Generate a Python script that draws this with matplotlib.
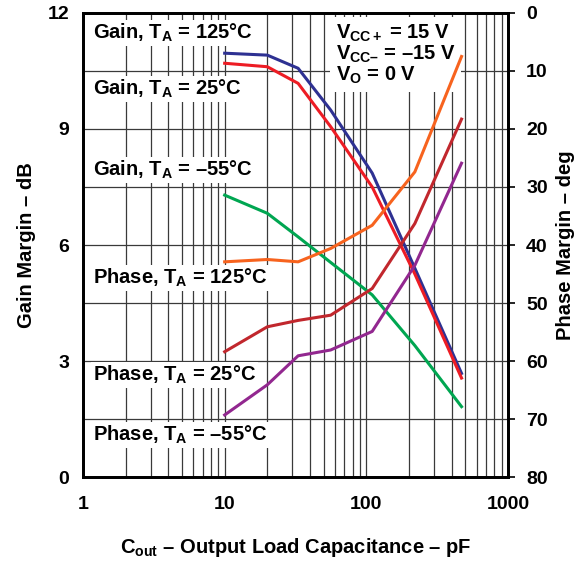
"""Gain and phase margin vs output load capacitance."""

import matplotlib

matplotlib.use("Agg")

import matplotlib.pyplot as plt
import numpy as np
from matplotlib.ticker import FixedLocator, NullFormatter, NullLocator

# load capacitance in pF
CAP = [10, 20, 33, 56, 110, 220, 470]

GAIN_125 = [10.96, 10.91, 10.57, 9.49, 7.86, 5.40, 2.68]
GAIN_25 = [10.70, 10.61, 10.18, 9.06, 7.50, 5.25, 2.56]
GAIN_M55 = [7.29, 6.82, 6.21, 5.55, 4.71, 3.40, 1.82]

PHASE_125 = [42.9, 42.5, 42.9, 40.6, 36.6, 27.4, 7.5]
PHASE_25 = [58.4, 54.1, 53.0, 52.1, 47.5, 36.3, 18.3]
PHASE_M55 = [69.3, 64.1, 59.1, 58.1, 54.9, 43.5, 25.9]

GAIN_TICKS = [0, 3, 6, 9, 12]
PHASE_TICKS = [0, 10, 20, 30, 40, 50, 60, 70, 80]
X_TICKS = [1, 10, 100, 1000]

COLORS = {
    "gain_125": "#2E3192",
    "gain_25": "#ED1C24",
    "gain_m55": "#00A651",
    "phase_125": "#F7631E",
    "phase_25": "#C1272D",
    "phase_m55": "#92278F",
    "grid": "#3A3A3A",
}

FS = 14.5      # annotations and axis titles
FS_TICK = 14

plt.rcParams.update(
    {
        "font.family": ["Liberation Sans", "DejaVu Sans"],
        "font.weight": "bold",
        "font.size": FS,
        "axes.labelweight": "bold",
        "mathtext.fontset": "custom",
        "mathtext.rm": "Liberation Sans:bold",
        "mathtext.it": "Liberation Sans:bold",
        "mathtext.bf": "Liberation Sans:bold",
        "mathtext.default": "rm",
    }
)

fig = plt.figure(figsize=(5.87, 5.62), dpi=100)
ax = fig.add_axes([0.1414, 0.1512, 0.7240, 0.8257])
ax2 = ax.twinx()

ax.set_xscale("log")
ax.set_xlim(1, 1000)
ax.set_ylim(0, 12)
ax2.set_ylim(80, 0)

# grid: every 1.5 dB on gain axis (= 10 deg on phase axis)
ax.yaxis.set_major_locator(FixedLocator(GAIN_TICKS))
ax.yaxis.set_minor_locator(FixedLocator(np.arange(0, 12.1, 1.5)))
ax.xaxis.set_major_locator(FixedLocator(X_TICKS))
ax.set_xticklabels([str(t) for t in X_TICKS])
ax.xaxis.set_minor_locator(matplotlib.ticker.LogLocator(base=10, subs=np.arange(2, 10)))
ax.xaxis.set_minor_formatter(NullFormatter())
ax.grid(which="both", axis="both", color=COLORS["grid"], linewidth=0.9)
ax.set_axisbelow(True)

ax.tick_params(axis="both", which="both", length=0, labelsize=FS_TICK, pad=10)
ax.tick_params(axis="x", pad=14)
ax2.yaxis.set_major_locator(FixedLocator(PHASE_TICKS))
ax2.yaxis.set_minor_locator(NullLocator())
ax2.tick_params(axis="y", length=5, width=1.2, labelsize=FS_TICK, pad=8)

for a in (ax, ax2):
    for sp in a.spines.values():
        sp.set_linewidth(2.0)
        sp.set_color("black")

lw = 2.2
ax.plot(CAP, GAIN_125, color=COLORS["gain_125"], lw=lw, zorder=4)
ax.plot(CAP, GAIN_25, color=COLORS["gain_25"], lw=lw, zorder=4)
ax.plot(CAP, GAIN_M55, color=COLORS["gain_m55"], lw=lw, zorder=4)
ax2.plot(CAP, PHASE_125, color=COLORS["phase_125"], lw=lw)
ax2.plot(CAP, PHASE_25, color=COLORS["phase_25"], lw=lw)
ax2.plot(CAP, PHASE_M55, color=COLORS["phase_m55"], lw=lw)

ax.set_ylabel("Gain Margin \u2013 dB", fontsize=FS, labelpad=8)
ax2.set_ylabel("Phase Margin \u2013 deg", fontsize=FS, labelpad=6)
ax.set_xlabel("C$_{out}$ \u2013 Output Load Capacitance \u2013 pF", fontsize=FS, labelpad=16)

box = dict(facecolor="white", edgecolor="none", pad=1.5)
labels = [
    ("Gain, T$_{A}$ = 125\u00b0C", 11.48),
    ("Gain, T$_{A}$ = 25\u00b0C", 10.03),
    ("Gain, T$_{A}$ = \u201355\u00b0C", 7.94),
    ("Phase, T$_{A}$ = 125\u00b0C", 5.15),
    ("Phase, T$_{A}$ = 25\u00b0C", 2.64),
    ("Phase, T$_{A}$ = \u201355\u00b0C", 1.09),
]
for text, y in labels:
    ax.text(1.17, y, text, ha="left", va="center", fontsize=FS, bbox=box, zorder=3)

ax.text(
    0.595, 0.98,
    "V$_{CC+}$ = 15 V\nV$_{CC\u2013}$ = \u201315 V\nV$_{O}$ = 0 V",
    transform=ax.transAxes, ha="left", va="top", fontsize=FS, linespacing=1.0,
    bbox=dict(facecolor="white", edgecolor="none", pad=4), zorder=3,
)

fig.savefig("out.png", dpi=100)
